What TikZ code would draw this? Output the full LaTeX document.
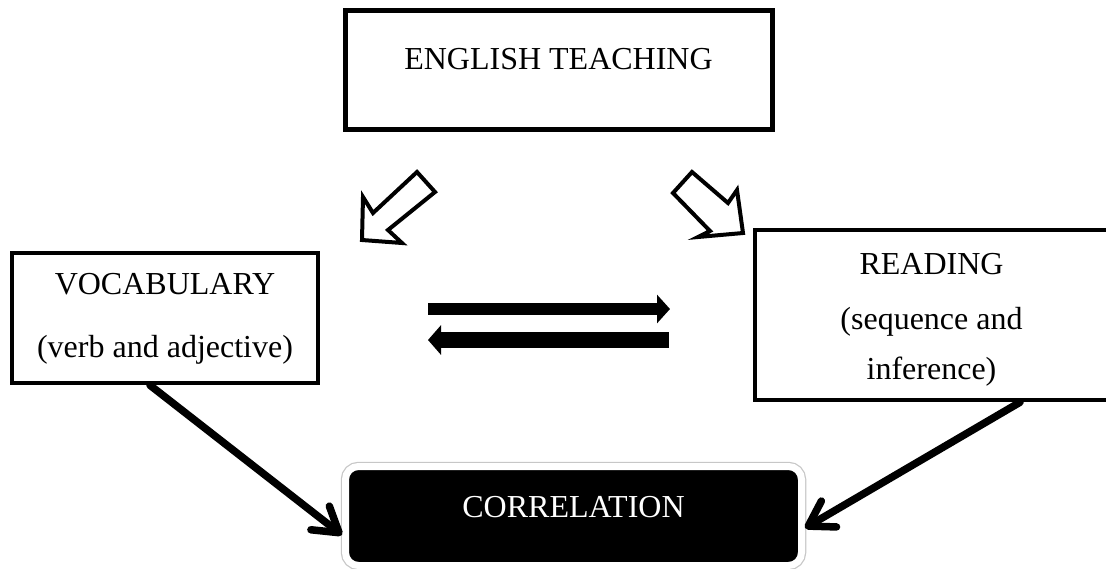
\documentclass[tikz,border=0pt]{standalone}
\usepackage{fontspec}
\setmainfont{Liberation Serif}
\usetikzlibrary{arrows.meta,calc}
\begin{document}
\begin{tikzpicture}[x=1pt,y=-1pt,
  txt/.style={font=\fontsize{32}{38}\selectfont},
  boxnode/.style={draw=black, fill=white, rectangle, inner sep=0pt, txt, line width=4.5pt},
  hollow/.style={draw=black, fill=white, line width=4pt, line join=miter},
  link/.style={draw=black, line width=7.5pt, line cap=round, -{Straight Barb[length=24pt,width=30pt,round]}},
  bararrow/.style={draw=black, line width=12pt, -{Triangle[length=13pt,width=28pt]}}
]
\useasboundingbox (0,0) rectangle (1106,568);

\node[boxnode, line width=5pt, minimum width=427pt, minimum height=119pt, text height=21pt, text depth=21pt] (eng) at (558.5,69.5) {ENGLISH TEACHING};

\node[boxnode, minimum width=306pt, minimum height=130pt] (vocab) at (165,318)
  {\begin{tabular}{@{}c@{}}VOCABULARY\\[25pt](verb and adjective)\end{tabular}};

\node[boxnode, minimum width=353pt, minimum height=170pt] (read) at (931.5,315)
  {\begin{tabular}{@{}c@{}}\rule{0pt}{34.6pt}READING\\[17pt](sequence and\\[12pt]inference)\end{tabular}};

\node[rectangle, rounded corners=13pt, fill=black, draw=white, line width=7pt,
      preaction={draw=black!22, line width=9.5pt},
      minimum width=456pt, minimum height=99pt, inner sep=0pt, txt, text=white,
      text height=21pt, text depth=19pt] (corr) at (573.5,516) {CORRELATION};

% hollow block arrows
\draw[hollow] (417,172) -- (435,192) -- (388,230) -- (402,243) -- (362,240) -- (363,197) -- (373,213) -- cycle;
\draw[hollow] (692,172) -- (728,203) -- (737,190) -- (743,233) -- (698,237) -- (710,231) -- (673,193) -- cycle;

% double bar arrows
\coordinate (r1) at (428,309);
\coordinate (r2) at (670,309);
\draw[bararrow] (r1) -- (r2);
\coordinate (l1) at (669,340);
\coordinate (l2) at (428,340);
\draw[bararrow, line width=16pt, -{Triangle[length=13pt,width=29pt]}] (l1) -- (l2);

% links to correlation
\draw[link] ([xshift=-15pt]vocab.south) -- ([yshift=-19pt]corr.west);
\draw[link] ([xshift=88.5pt]read.south) -- ([yshift=-12pt]corr.east);
\end{tikzpicture}
\end{document}
